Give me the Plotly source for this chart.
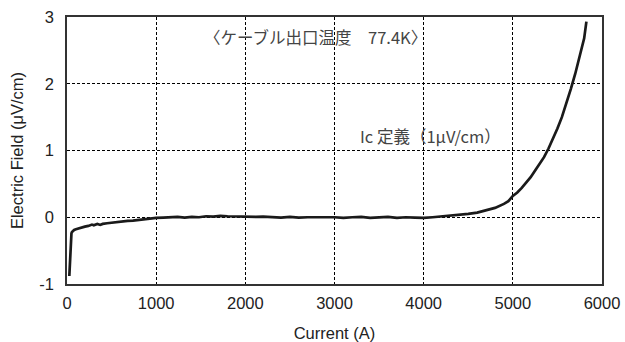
import plotly.graph_objects as go

current_a = [26, 30, 35, 40, 45, 50, 56, 65, 80, 100, 130, 160, 200, 240, 280, 300, 340, 373, 400, 450,
             500, 560, 620, 680, 740, 800, 860, 920, 1000, 1080, 1160, 1240, 1320, 1400, 1480, 1560, 1640,
             1720, 1800, 1880, 1960, 2040, 2120, 2200, 2300, 2400, 2500, 2600, 2700, 2800, 2900, 3000,
             3100, 3200, 3300, 3400, 3500, 3600, 3700, 3800, 3900, 4000, 4100, 4200, 4300, 4400, 4500,
             4600, 4700, 4800, 4900, 4950, 5000, 5050, 5100, 5150, 5200, 5250, 5300, 5350, 5400, 5450,
             5500, 5550, 5600, 5650, 5700, 5750, 5800, 5825]
field_uv_cm = [-0.88, -0.75, -0.55, -0.38, -0.28, -0.24, -0.22, -0.205, -0.19, -0.18, -0.165, -0.16, -0.14,
               -0.13, -0.11, -0.12, -0.10, -0.115, -0.10, -0.09, -0.08, -0.07, -0.06, -0.055, -0.05, -0.04,
               -0.03, -0.025, -0.01, -0.005, 0.0, 0.005, -0.005, 0.005, 0.0, 0.015, 0.01, 0.02, 0.015, 0.01,
               0.015, 0.01, 0.005, 0.01, 0.0, -0.005, 0.005, -0.005, 0.0, 0.005, 0.0, 0.0, -0.01, 0.0, 0.005,
               -0.01, 0.0, 0.005, -0.01, 0.0, -0.005, -0.01, 0.0, 0.01, 0.02, 0.03, 0.05, 0.07, 0.10, 0.14,
               0.20, 0.24, 0.32, 0.37, 0.44, 0.52, 0.60, 0.70, 0.80, 0.90, 1.03, 1.17, 1.33, 1.50, 1.70,
               1.92, 2.15, 2.40, 2.68, 2.93]

x_ticks = [0, 1000, 2000, 3000, 4000, 5000, 6000]
x_tick_labels = ["0", "1000", "2000", "3000", "4000", "5000", "6000"]
y_ticks = [-1, 0, 1, 2, 3]
y_tick_labels = ["-1", "0", "1", "2", "3"]

title_text = "〈ケーブル出口温度　77.4K〉"
ic_text = "Ic 定義（1μV/cm）"

fig = go.Figure()
fig.add_trace(go.Scatter(x=current_a, y=field_uv_cm, mode="lines",
                         line=dict(color="#1a1a1a", width=2.7), showlegend=False))

tick_font = dict(family="Liberation Sans, Arial, sans-serif", size=16.5, color="#222")
title_font = dict(family="Liberation Sans, Arial, sans-serif", size=16.5, color="#222")
fig.update_layout(
    width=625, height=342,
    margin=dict(l=67, r=23, t=17, b=58),
    paper_bgcolor="white", plot_bgcolor="white",
    xaxis=dict(range=[0, 6000], tickvals=x_ticks, ticktext=x_tick_labels, showgrid=True,
               gridcolor="#000", griddash="3px,2px", gridwidth=1, showline=True, linecolor="#333",
               linewidth=1.5, mirror=True, zeroline=False, ticks="", tickfont=tick_font,
               automargin=False, ticklabelstandoff=3,
               title=dict(text="Current (A)", font=title_font, standoff=20)),
    yaxis=dict(range=[-1, 3], tickvals=y_ticks, ticktext=y_tick_labels, showgrid=True,
               gridcolor="#000", griddash="3px,2px", gridwidth=1, showline=True, linecolor="#333",
               linewidth=1.5, mirror=True, zeroline=False, ticks="", tickfont=tick_font,
               automargin=False, ticklabelstandoff=8,
               title=dict(text="Electric Field (μV/cm)", font=title_font, standoff=12)),
    font=dict(family="Liberation Sans, Arial, sans-serif"),
)
jp_font = dict(family="Noto Sans CJK JP, sans-serif", size=16.5, color="#444")
fig.add_annotation(x=0.465, y=2.70, xref="paper", yref="y", text=title_text, showarrow=False,
                   font=jp_font, xanchor="center", yanchor="middle")
fig.add_annotation(x=4080, y=1.22, xref="x", yref="y", text=ic_text, showarrow=False,
                   font=jp_font, xanchor="center", yanchor="middle")

fig.write_html("out.html")
